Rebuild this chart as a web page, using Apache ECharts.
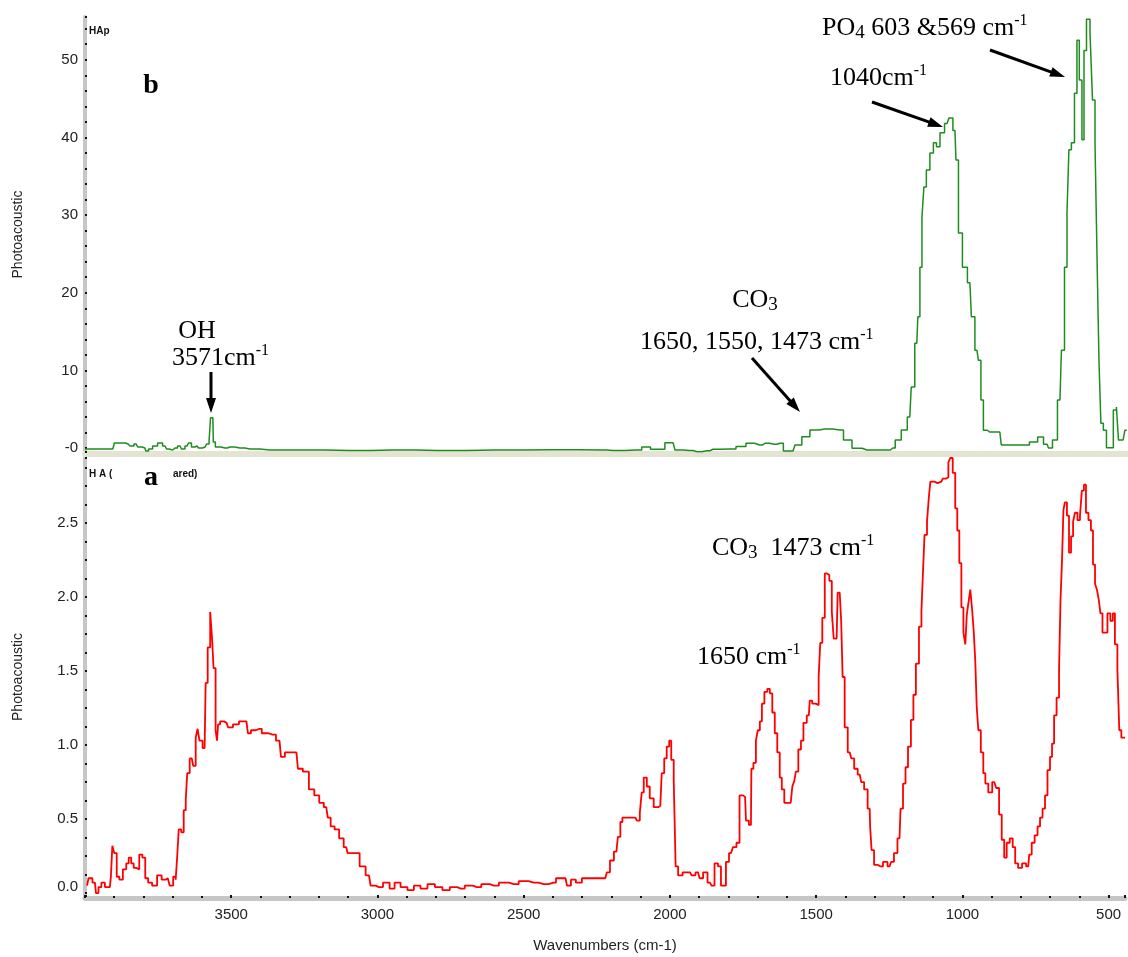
<!DOCTYPE html>
<html><head><meta charset="utf-8">
<script src="https://cdn.jsdelivr.net/npm/echarts@6/dist/echarts.min.js"></script>
<style>html,body{margin:0;padding:0;background:#fff}#c{width:1128px;height:957px}</style>
</head><body><div id="c"></div><script>
// ---- data (wavenumber cm-1, photoacoustic signal) ----
const greenSpectrum = [
[4000,-0.1],[3905,-0.1],[3895,0.66],[3870,0.66],[3853,0.53],[3840,0.27],[3826,0.53],[3813,0.14],[3796,0.01],[3789,-0.37],
[3778,-0.11],[3761,0.27],[3744,0.66],[3727,0.27],[3717,-0.11],[3710,-0.24],[3693,0.01],[3676,0.27],[3666,-0.11],[3652,0.27],
[3642,0.66],[3632,0.14],[3618,0.27],[3608,0.01],[3591,0.14],[3580,0.53],[3574,0.92],[3570,3.9],[3564,3.9],[3561,0.79],
[3550,0.14],[3523,0.01],[3506,0.14],[3472,0.01],[3438,-0.11],[3370,-0.24],[3267,-0.24],[3100,-0.3],[2950,-0.24],[2800,-0.3],
[2600,-0.24],[2400,-0.2],[2244,-0.24],[2200,-0.3],[2120,-0.24],[2084,0.14],[2060,-0.15],[2040,-0.15],[2006,0.7],[1995,0.7],
[1982,-0.24],[1940,-0.3],[1914,-0.46],[1880,-0.35],[1859,-0.15],[1801,-0.1],[1760,0.2],[1733,0.62],[1700,0.4],[1682,0.62],
[1650,0.5],[1631,0.62],[1607,-0.37],[1586,-0.37],[1573,0.4],[1539,1.47],[1518,2.33],[1477,2.45],[1426,2.33],[1402,1.04],
[1368,-0.02],[1334,-0.24],[1262,-0.24],[1246,0.01],[1229,1.04],[1205,2.33],[1188,4.0],[1178,7.87],[1164,13.5],[1157,16.9],
[1150,23.3],[1143,29.7],[1137,33.6],[1126,35.8],[1113,38.0],[1102,39.3],[1092,38.8],[1078,40.6],[1061,41.8],[1048,42.5],
[1034,40.9],[1027,37.1],[1017,27.7],[1000,23.3],[983,21.3],[973,16.9],[959,12.6],[949,11.3],[942,6.2],[932,2.3],
[915,2.07],[881,2.07],[871,0.4],[800,0.4],[760,0.8],[744,1.43],[720,0.5],[710,0.01],[693,1.04],[676,6.2],
[666,12.6],[655,23.3],[649,30.3],[642,38.4],[632,39.3],[621,45.7],[615,52.5],[605,47.4],[597,39.7],[591,51.2],
[580,55.2],[567,53.4],[563,44.8],[550,39.3],[546,21.3],[540,11.3],[533,3.2],[523,2.3],[512,0.04],[499,0.04],
[489,4.9],[478,5.3],[475,1.04],[461,1.04],[448,2.3]
];
const redSpectrum = [
[3993,0.05],[3983,0.10],[3966,0.07],[3959,0.00],[3949,0.04],[3939,0.07],[3925,0.04],[3915,0.04],[3908,0.11],[3905,0.32],
[3895,0.27],[3888,0.11],[3877,0.09],[3864,0.16],[3854,0.20],[3847,0.24],[3837,0.20],[3830,0.17],[3820,0.16],[3809,0.26],
[3799,0.24],[3789,0.10],[3779,0.07],[3762,0.05],[3745,0.12],[3731,0.09],[3717,0.10],[3704,0.05],[3693,0.11],[3687,0.09],
[3683,0.24],[3676,0.43],[3666,0.41],[3659,0.56],[3652,0.63],[3649,0.81],[3635,0.91],[3625,0.86],[3618,1.05],[3612,1.11],
[3605,1.03],[3591,0.98],[3584,1.42],[3577,1.66],[3567,1.90],[3564,1.72],[3557,1.52],[3550,1.10],[3547,1.03],[3543,1.14],
[3533,1.16],[3516,1.15],[3506,1.12],[3482,1.14],[3465,1.16],[3448,1.16],[3438,1.08],[3427,1.10],[3404,1.11],[3387,1.08],
[3359,1.07],[3335,1.03],[3325,0.92],[3308,0.95],[3277,0.95],[3267,0.84],[3243,0.82],[3226,0.70],[3206,0.66],[3192,0.61],
[3175,0.58],[3165,0.51],[3155,0.45],[3138,0.43],[3124,0.37],[3107,0.31],[3097,0.27],[3070,0.27],[3052,0.18],[3029,0.12],
[3018,0.05],[2995,0.04],[2967,0.07],[2950,0.03],[2933,0.07],[2909,0.04],[2886,0.02],[2865,0.05],[2841,0.03],[2817,0.06],
[2790,0.04],[2766,0.02],[2739,0.04],[2715,0.03],[2688,0.05],[2660,0.04],[2630,0.06],[2602,0.05],[2568,0.07],[2534,0.06],
[2500,0.08],[2466,0.07],[2432,0.06],[2398,0.07],[2381,0.10],[2357,0.10],[2347,0.05],[2330,0.09],[2313,0.07],[2289,0.10],
[2221,0.10],[2210,0.14],[2200,0.22],[2183,0.28],[2173,0.38],[2166,0.48],[2159,0.51],[2118,0.51],[2108,0.49],[2098,0.54],
[2095,0.68],[2084,0.78],[2074,0.72],[2064,0.64],[2047,0.58],[2033,0.59],[2023,0.81],[2016,0.91],[2006,0.99],[1999,1.03],
[1992,0.90],[1982,0.76],[1979,0.18],[1965,0.12],[1948,0.14],[1931,0.14],[1921,0.12],[1904,0.14],[1893,0.10],[1880,0.14],
[1863,0.07],[1853,0.05],[1842,0.20],[1829,0.18],[1822,0.05],[1812,0.05],[1805,0.21],[1791,0.27],[1778,0.31],[1767,0.34],
[1757,0.66],[1743,0.65],[1737,0.49],[1723,0.46],[1720,0.84],[1709,0.88],[1703,1.03],[1696,1.10],[1689,1.16],[1682,1.28],
[1672,1.36],[1662,1.38],[1655,1.35],[1645,1.22],[1638,1.08],[1628,0.95],[1621,0.78],[1614,0.70],[1604,0.61],[1587,0.61],
[1576,0.72],[1573,0.76],[1566,0.82],[1556,0.97],[1548,1.03],[1539,1.15],[1525,1.20],[1519,1.30],[1508,1.28],[1495,1.27],
[1488,1.46],[1484,1.69],[1474,1.86],[1467,2.16],[1460,2.15],[1450,2.11],[1443,1.90],[1437,1.72],[1430,1.72],[1423,2.03],
[1416,2.03],[1413,1.84],[1406,1.46],[1399,1.12],[1385,0.95],[1375,0.91],[1365,0.84],[1351,0.80],[1341,0.75],[1331,0.70],
[1317,0.57],[1314,0.45],[1307,0.29],[1297,0.19],[1280,0.18],[1263,0.21],[1249,0.18],[1239,0.21],[1229,0.27],[1215,0.37],
[1208,0.57],[1198,0.74],[1191,0.85],[1181,0.99],[1171,1.17],[1164,1.34],[1154,1.55],[1143,1.80],[1137,1.91],[1133,2.16],
[1126,2.42],[1116,2.51],[1113,2.68],[1106,2.78],[1085,2.77],[1072,2.78],[1062,2.80],[1051,2.81],[1045,2.91],[1038,2.94],
[1028,2.84],[1021,2.60],[1014,2.45],[1007,2.23],[1000,1.93],[993,1.76],[987,1.68],[983,1.88],[976,1.96],[970,2.05],
[963,1.91],[959,1.76],[953,1.57],[949,1.26],[942,1.10],[932,0.95],[925,0.81],[918,0.74],[905,0.68],[891,0.75],
[878,0.71],[871,0.53],[860,0.36],[854,0.24],[843,0.34],[833,0.37],[823,0.31],[816,0.20],[803,0.17],[789,0.20],
[775,0.18],[768,0.26],[758,0.34],[748,0.39],[738,0.45],[731,0.51],[721,0.57],[714,0.66],[704,0.83],[697,0.92],
[690,1.01],[683,1.20],[673,1.32],[666,1.51],[663,1.98],[656,2.24],[653,2.59],[646,2.64],[639,2.55],[632,2.30],
[625,2.41],[618,2.51],[612,2.57],[601,2.52],[595,2.55],[588,2.72],[581,2.76],[574,2.57],[564,2.52],[557,2.45],
[550,2.22],[543,2.09],[537,2.05],[530,1.98],[526,1.89],[516,1.76],[509,1.76],[499,1.89],[489,1.84],[482,1.89],
[475,1.68],[465,1.51],[462,1.10],[451,1.05],[444,1.05]
];
const xRange = [444, 4000];
const topRange = [-0.5, 55.5];
const bottomRange = [-0.02, 2.94];
const xTitle = 'Wavenumbers (cm-1)';
const yTitle = 'Photoacoustic';

// ---- chart ----
const chart = echarts.init(document.getElementById('c'), null, {renderer: 'canvas'});
const SANS = 'Liberation Sans, Arial, sans-serif';
const SERIF = 'Liberation Serif, Times New Roman, serif';
const tickDark = {color: '#111', width: 2};

function xAxisCfg(grid, visible) {
  return {
    gridIndex: grid, type: 'value', inverse: true, min: xRange[0], max: xRange[1], splitNumber: 7,
    offset: 2,
    axisLine: {show: true, onZero: false, lineStyle: {color: visible ? '#c6c6c6' : '#e4e4d3', width: visible ? 5 : 6}},
    axisTick: {show: visible, inside: true, length: 3, lineStyle: tickDark},
    minorTick: {show: visible, splitNumber: 5, length: 2, lineStyle: tickDark},
    splitLine: {show: false},
    axisLabel: {show: visible, color: '#222', fontSize: 15, fontFamily: SANS, margin: 9,
      formatter: v => (Math.abs(v % 500) < 1e-6 && v < 4000) ? String(v) : ''},
    name: visible ? xTitle : '', nameLocation: 'middle', nameGap: 40,
    nameTextStyle: {color: '#222', fontSize: 15, fontFamily: SANS}
  };
}
function yAxisCfg(grid, range, split, minorSplit, fmt) {
  return {
    gridIndex: grid, type: 'value', min: range[0], max: range[1], splitNumber: split,
    axisLine: {show: true, onZero: false, lineStyle: {color: '#c6c6c6', width: 4}},
    axisTick: {show: true, inside: true, length: 2, lineStyle: tickDark},
    minorTick: {show: true, splitNumber: minorSplit, length: 2, lineStyle: tickDark},
    splitLine: {show: false},
    axisLabel: {color: '#222', fontSize: 15, fontFamily: SANS, margin: 7, formatter: fmt,
      rich: {low: {color: '#222', fontSize: 15, fontFamily: SANS, padding: [0, 0, 12, 0]}}},
    name: yTitle, nameLocation: 'middle', nameGap: 60, nameRotate: 90,
    nameTextStyle: {color: '#222', fontSize: 14, fontFamily: SANS}
  };
}

const rich = {
  t: {fontFamily: SERIF, fontSize: 26, lineHeight: 30, fill: '#000'},
  s: {fontFamily: SERIF, fontSize: 16, verticalAlign: 'top', fill: '#000'},
  b: {fontFamily: SERIF, fontSize: 19, verticalAlign: 'bottom', fill: '#000'},
  bold: {fontFamily: SERIF, fontSize: 28, fontWeight: 'bold', fill: '#000'}
};
const annotations = [
  {x: 151, y: 86, align: 'center', text: '{bold|b}'},
  {x: 151, y: 478, align: 'center', text: '{bold|a}'},
  {x: 197, y: 331, align: 'center', text: '{t|OH}'},
  {x: 172, y: 358, align: 'left', text: '{t|3571cm}{s|-1}'},
  {x: 755, y: 300, align: 'center', text: '{t|CO}{b|3}'},
  {x: 640, y: 342, align: 'left', text: '{t|1650, 1550, 1473 cm}{s|-1}'},
  {x: 830, y: 78, align: 'left', text: '{t|1040cm}{s|-1}'},
  {x: 822, y: 28, align: 'left', text: '{t|PO}{b|4}{t| 603 &569 cm}{s|-1}'},
  {x: 712, y: 548, align: 'left', text: '{t|CO}{b|3}{t|  1473 cm}{s|-1}'},
  {x: 697, y: 657, align: 'left', text: '{t|1650 cm}{s|-1}'}
];
const smallLabels = [
  {x: 89, y: 31, text: 'HAp'},
  {x: 89, y: 474, text: 'H A ('},
  {x: 173, y: 474, text: 'ared)'}
];
const arrows = [
  [211, 372, 211, 413],
  [752, 358, 800, 412],
  [872, 102, 943, 127],
  [990, 50, 1065, 77]
];

const graphics = [];
annotations.forEach(a => graphics.push({
  type: 'text', x: a.x, y: a.y, z: 10,
  style: {text: a.text, rich: rich, align: a.align, verticalAlign: 'middle', fill: '#000',
          fontFamily: SERIF, fontSize: 26}
}));
smallLabels.forEach(a => graphics.push({
  type: 'text', x: a.x, y: a.y, z: 10,
  style: {text: a.text, align: 'left', verticalAlign: 'middle', fill: '#111',
          fontFamily: SANS, fontSize: 10, fontWeight: 'bold'}
}));
arrows.forEach(([x1, y1, x2, y2]) => {
  const dx = x2 - x1, dy = y2 - y1, len = Math.hypot(dx, dy);
  const ux = dx / len, uy = dy / len, L = 15, W = 5;
  const cx = x2 - ux * L, cy = y2 - uy * L;
  graphics.push({type: 'line', z: 10, shape: {x1: x1, y1: y1, x2: cx + ux * 2, y2: cy + uy * 2},
    style: {stroke: '#000', lineWidth: 3}});
  graphics.push({type: 'polygon', z: 10,
    shape: {points: [[x2, y2], [cx - uy * W, cy + ux * W], [cx + uy * W, cy - ux * W]]},
    style: {fill: '#000'}});
});

chart.setOption({
  animation: false,
  backgroundColor: '#fff',
  grid: [
    {left: 85, right: 0, top: 17, bottom: 957 - 452},
    {left: 85, right: 0, top: 458, bottom: 957 - 896}
  ],
  xAxis: [xAxisCfg(0, false), xAxisCfg(1, true)],
  yAxis: [
    yAxisCfg(0, topRange, 5, 5, v => Math.abs(v) < 1e-9 ? '-0' : (Math.abs(v % 10) < 1e-9 ? String(v) : '')),
    yAxisCfg(1, bottomRange, 6, 4, v => Math.abs(v) < 1e-9 ? '{low|0.0}' :
      ((v > 0 && Math.abs(v * 2 - Math.round(v * 2)) < 1e-9) ? v.toFixed(1) : ''))
  ],
  series: [
    {type: 'line', xAxisIndex: 0, yAxisIndex: 0, data: greenSpectrum, showSymbol: false, silent: true,
     step: 'middle', lineStyle: {color: '#1f8c1f', width: 1.5}},
    {type: 'line', xAxisIndex: 1, yAxisIndex: 1, data: redSpectrum, showSymbol: false, silent: true,
     step: 'middle', lineStyle: {color: '#ff0000', width: 1.8}}
  ],
  graphic: graphics
});
</script></body></html>
